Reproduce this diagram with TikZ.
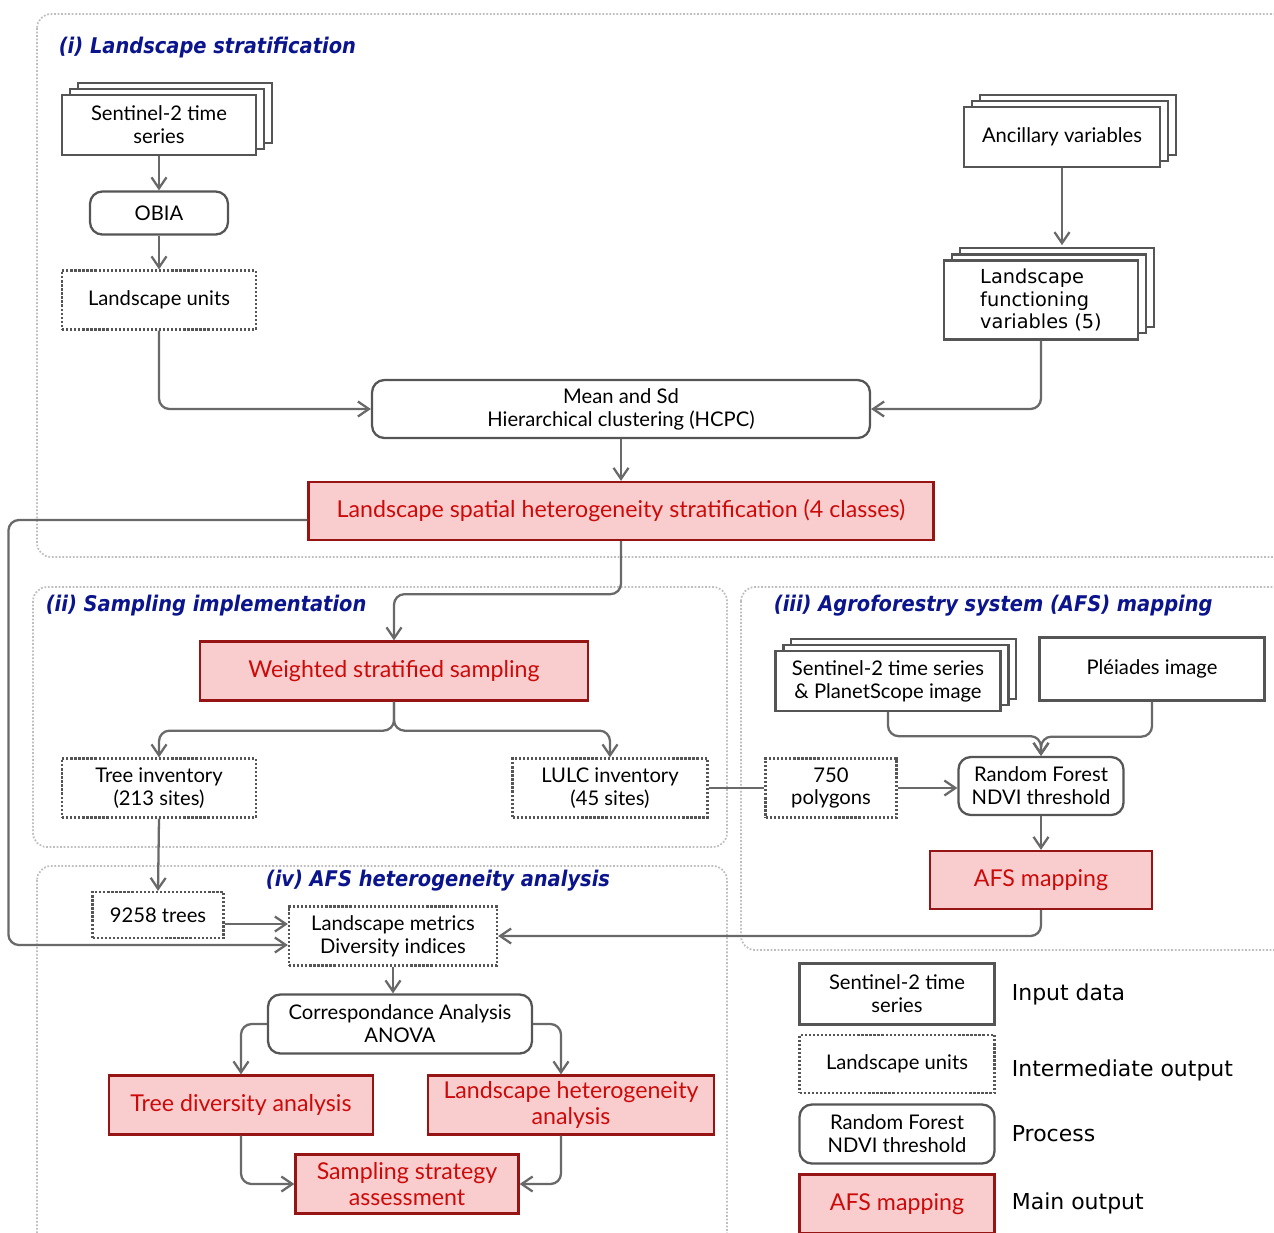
\documentclass[tikz,border=0pt]{standalone}
\usepackage{fontspec}
\usepackage{xcolor}
\usepackage{tikz}
\usetikzlibrary{arrows.meta,shadows}
\newfontfamily\figfont{Lato}
\newfontfamily\verfont{DejaVu Sans Condensed}
\newfontfamily\vwidefont{DejaVu Sans}
\definecolor{linegray}{RGB}{105,105,105}
\definecolor{boxgray}{RGB}{85,85,85}
\definecolor{outfill}{RGB}{249,205,205}
\definecolor{outdraw}{RGB}{150,20,20}
\definecolor{outtext}{RGB}{205,10,10}
\definecolor{titblue}{RGB}{10,20,140}
\definecolor{sectgray}{RGB}{190,190,190}

\begin{document}
\begin{tikzpicture}
  [x=0.02cm,y=-0.02cm,
   every node/.style={font=\figfont\fontsize{11.5}{13}\selectfont,align=center,inner sep=2pt},
   inbox/.style={draw=boxgray,line width=1.3pt,fill=white,minimum width=3.88cm,minimum height=1.2cm}, % input data
   stackbox/.style={inbox,double copy shadow={shadow xshift=4.5pt,shadow yshift=3.5pt}},
   midbox/.style={draw=boxgray,line width=1.3pt,densely dotted,minimum width=3.88cm,minimum height=1.18cm}, % intermediate output
   procbox/.style={draw=boxgray,line width=1.3pt,rounded corners=7pt,minimum width=3.3cm,minimum height=1.16cm}, % process
   outbox/.style={draw=outdraw,line width=1.3pt,fill=outfill,text=outtext,
     font=\figfont\fontsize{13.2}{15}\selectfont,minimum height=1.18cm}, % main output
   sectbox/.style={draw=sectgray,line width=1pt,densely dotted,rounded corners=8pt},
   secttitle/.style={anchor=west,text=titblue,font=\verfont\bfseries\itshape\fontsize{12.3}{15}\selectfont},
   legtext/.style={anchor=west,font=\vwidefont\fontsize{12.5}{15}\selectfont},
   conn/.style={draw=linegray,line width=1.3pt,rounded corners=6pt,-{Straight Barb[length=2.2mm,width=3mm]}}]

    \useasboundingbox (0,0) rectangle (1274,1232);

    % sections
    \draw[sectbox] (37,14) rectangle (1310,557);
    \draw[sectbox] (33,587) rectangle (727,847);
    \draw[sectbox] (741,587) rectangle (1310,950);
    \draw[sectbox] (37,866) rectangle (727,1270);

    \node[secttitle] (t1) at (55,48)  {(i) Landscape stratification};
    \node[secttitle] (t2) at (42,606) {(ii) Sampling implementation};
    \node[secttitle] (t3) at (770,606) {(iii) Agroforestry system (AFS) mapping};
    \node[secttitle] (t4) at (262,881) {(iv) AFS heterogeneity analysis};

    % (i) landscape stratification
    \node[stackbox] (s2)   at (159,125)  {Sentinel-2 time\\series};
    \node[procbox,minimum width=2.76cm,minimum height=0.86cm] (obia) at (159,213) {OBIA};
    \node[midbox]   (lu)   at (159,300)  {Landscape units};
    \node[stackbox,minimum width=3.92cm] (anc) at (1062,137) {Ancillary variables};
    \node[stackbox,minimum height=1.58cm,align=left,font=\vwidefont\fontsize{11}{13}\selectfont] (lfv) at (1041,300)
      {Landscape\\functioning\\variables (5)};
    \node[procbox,minimum width=9.96cm] (hcpc) at (621,409) {Mean and Sd\\Hierarchical clustering (HCPC)};
    \node[outbox,minimum width=12.5cm,minimum height=1.16cm] (lshs) at (621,511)
      {Landscape spatial heterogeneity stratification (4 classes)};

    \draw[conn] (s2) -- (obia);
    \draw[conn] (obia) -- (lu);
    \draw[conn] (lu.south) |- (hcpc.west);
    \draw[conn] (anc.south) -- ++(0,77);
    \draw[conn] (lfv.south) |- (hcpc.east);
    \draw[conn] (hcpc) -- (lshs);

    % (ii) sampling implementation
    \node[outbox,minimum width=7.76cm] (wss) at (394,671) {Weighted stratified sampling};
    \node[midbox] (tree) at (159,788) {Tree inventory\\(213 sites)};
    \node[midbox,minimum width=3.9cm] (lulc) at (610,788) {LULC inventory\\(45 sites)};

    \draw[conn] (lshs.south) -- ++(0,53) -| (wss.north);
    \draw[conn] (wss.south) -- ++(0,29) -| (tree.north);
    \draw[conn] (wss.south) -- ++(0,29) -| (lulc.north);

    % (iii) AFS mapping
    \node[stackbox,minimum width=4.5cm] (s2p) at (888,681) {Sentinel-2 time series\\\& PlanetScope image};
    \node[inbox,minimum width=4.5cm,minimum height=1.26cm] (plei) at (1152,669) {Pléiades image};
    \node[procbox] (rf) at (1041,786) {Random Forest\\NDVI threshold};
    \node[midbox,minimum width=2.62cm] (poly) at (831,788) {750\\polygons};
    \node[outbox,minimum width=4.44cm,minimum height=1.16cm] (afs) at (1041,880) {AFS mapping};

    \draw[conn] (s2p.south) -- ++(0,24) -| (rf.north);
    \draw[conn] (plei.south) -- ++(0,35) -| (rf.north);
    \draw[draw=linegray,line width=1.3pt] (lulc.east) -- (poly.west);
    \draw[conn] (poly.east) -- (poly.east -| rf.west);
    \draw[conn] (rf) -- (afs);

    % (iv) AFS heterogeneity analysis
    \node[midbox,minimum width=2.62cm,minimum height=0.92cm] (trees) at (158,915) {9258 trees};
    \node[midbox,minimum width=4.16cm] (lm) at (393,936) {Landscape metrics\\Diversity indices};
    \node[procbox,minimum width=5.28cm,minimum height=1.18cm] (ca) at (400,1024) {Correspondance Analysis\\ANOVA};
    \node[outbox,minimum width=5.28cm] (tda) at (241,1105) {Tree diversity analysis};
    \node[outbox,minimum width=5.72cm] (lha) at (571,1105) {Landscape heterogeneity\\analysis};
    \node[outbox,minimum width=4.46cm] (ssa) at (407,1184) {Sampling strategy\\assessment};

    \draw[conn] (tree.south) -- (trees.north);
    \draw[conn] ([yshift=-0.18cm]trees.east) -- ([yshift=-0.18cm]trees.east -| lm.west);
    \draw[conn] ([yshift=-0.18cm]lshs.west) -- ++(-299,0) |- ([yshift=-0.18cm]lm.west);
    \draw[conn] (afs.south) |- (lm.east);
    \draw[conn] (lm.south) -- (lm.south |- ca.north);
    \draw[conn] (ca.west) -| (tda.north);
    \draw[conn] (ca.east) -| ([xshift=-0.2cm]lha.north);
    \draw[conn] (tda.south) |- (ssa.west);
    \draw[conn] ([xshift=-0.2cm]lha.south) |- (ssa.east);

    % legend
    \node[inbox,minimum width=3.9cm,minimum height=1.22cm] (lg1) at (897,994) {Sentinel-2 time\\series};
    \node[midbox,minimum width=3.9cm,minimum height=1.16cm] (lg2) at (897,1064) {Landscape units};
    \node[procbox,minimum width=3.9cm,minimum height=1.18cm] (lg3) at (897,1134) {Random Forest\\NDVI threshold};
    \node[outbox,minimum width=3.9cm] (lg4) at (897,1204) {AFS mapping};
    \node[legtext] (l1) at (1008,994)  {Input data};
    \node[legtext] (l2) at (1008,1070) {Intermediate output};
    \node[legtext] (l3) at (1008,1134) {Process};
    \node[legtext] (l4) at (1008,1203) {Main output};
\end{tikzpicture}
\end{document}
